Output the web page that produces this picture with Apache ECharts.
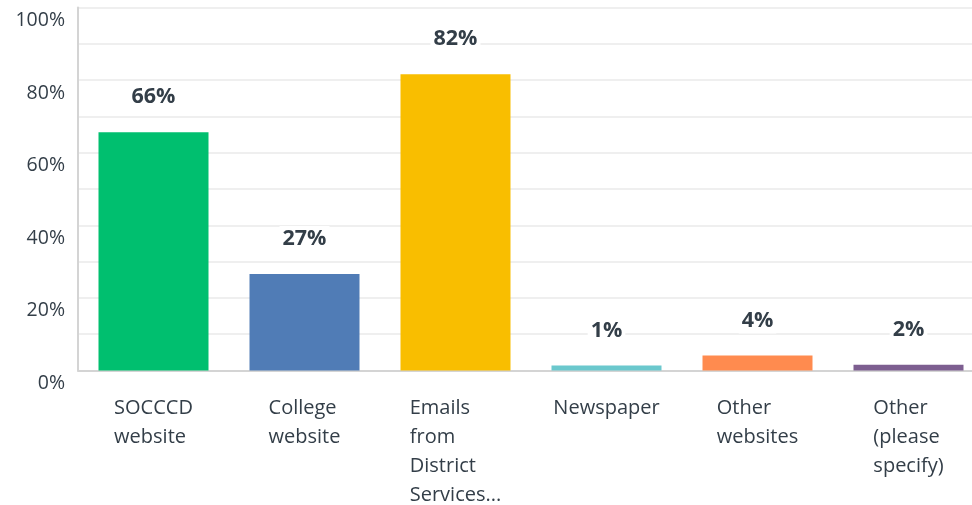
<!DOCTYPE html>
<html>
<head>
<meta charset="utf-8">
<script src="https://cdn.jsdelivr.net/npm/echarts@6/dist/echarts.min.js"></script>
<style>html,body{margin:0;padding:0;background:#fff;overflow:hidden}#c{width:990px;height:505px}</style>
</head>
<body>
<div id="c"></div>
<script>
var categories = ['SOCCCD\nwebsite', 'College\nwebsite', 'Emails\nfrom\nDistrict\nServices...', 'Newspaper', 'Other\nwebsites', 'Other\n(please\nspecify)'];
var values = [65.6, 26.6, 81.6, 1.4, 4.1, 1.6];
var valueLabels = ['66%', '27%', '82%', '1%', '4%', '2%'];
var colors = ['#00bf6f', '#507cb6', '#f9be00', '#6bc8cd', '#ff8b4f', '#7d5e90'];
var yTicks = [0, 10, 20, 30, 40, 50, 60, 70, 80, 90, 100];

var chart = echarts.init(document.getElementById('c'));
var font = "'Open Sans', 'Noto Sans', sans-serif";
chart.setOption({
  animation: false,
  grid: { left: 78, top: 7.5, right: 6, bottom: 133, containLabel: false },
  xAxis: {
    type: 'category',
    data: categories,
    axisTick: { show: false },
    axisLine: { show: true, lineStyle: { color: '#d4d4d4', width: 2 } },
    axisLabel: {
      interval: 0,
      margin: 23,
      align: 'center',
      formatter: function (v) { return '{a|' + v + '}'; },
      rich: { a: { align: 'left', fontFamily: font, fontSize: 20, lineHeight: 29, color: '#333e48' } }
    }
  },
  yAxis: {
    type: 'value',
    min: 0, max: 100, interval: 10,
    axisLine: { show: true, lineStyle: { color: '#d4d4d4', width: 2 } },
    axisTick: { show: false },
    splitLine: { lineStyle: { color: '#efefef', width: 2 } },
    axisLabel: {
      margin: 13,
      fontFamily: font, fontSize: 19.5, color: '#333e48',
      verticalAlign: 'top', lineHeight: 26,
      formatter: function (v) { return (v % 20 === 0 && yTicks.indexOf(v) >= 0) ? v + '%' : ''; }
    }
  },
  series: [{
    type: 'bar',
    barWidth: 110,
    data: values.map(function (v, i) { return { value: v, itemStyle: { color: colors[i] } }; }),
    label: {
      show: true,
      position: 'top',
      distance: 22,
      formatter: function (p) { return valueLabels[p.dataIndex]; },
      fontFamily: font, fontSize: 21.5, fontWeight: 'bold', color: '#333e48',
      backgroundColor: '#fff', padding: [2, 3]
    }
  }]
});
</script>
</body>
</html>
